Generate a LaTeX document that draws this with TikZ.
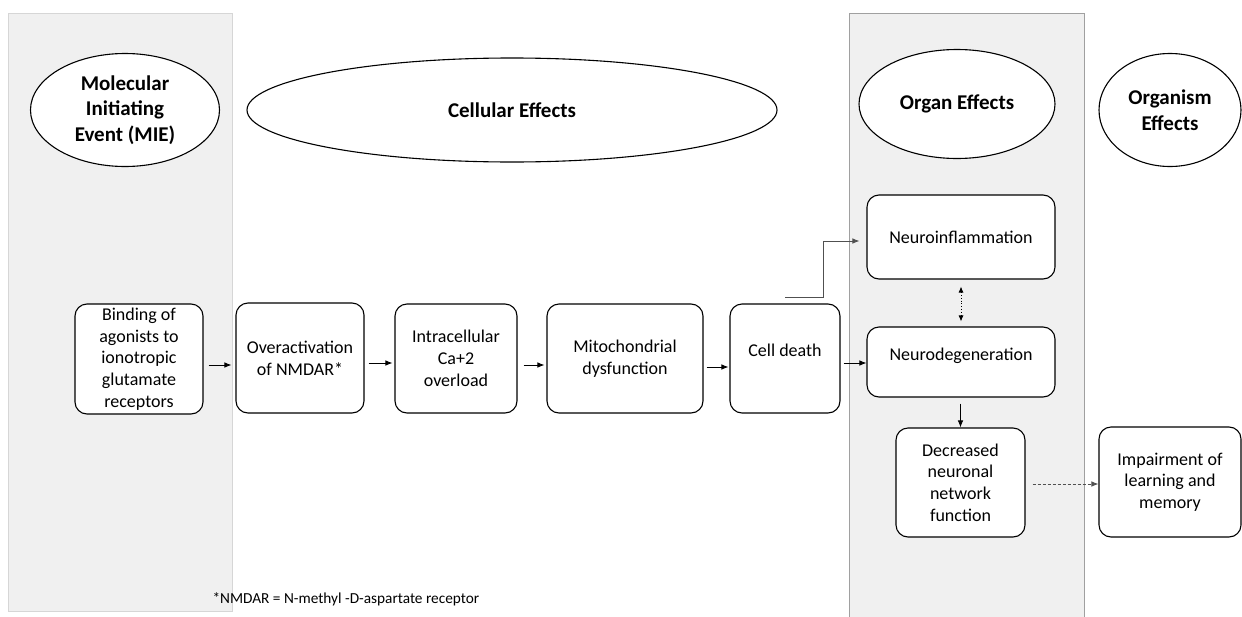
\documentclass[tikz,border=0pt]{standalone}
\usepackage{fontspec}
\setmainfont{Carlito}
\usetikzlibrary{shapes.geometric,arrows.meta}
\definecolor{panelfill}{HTML}{F0F0F0}
\definecolor{panelleft}{HTML}{D6D6D6}
\definecolor{panelright}{HTML}{A0A0A0}
\definecolor{elbowgray}{HTML}{505050}
\tikzset{
  x=1pt, y=-1pt,
  box/.style={draw, fill=white, line width=1.1pt, rounded corners=12pt, inner sep=0pt, align=center,
              font=\fontsize{18}{21.7}\selectfont},
  title/.style={draw, fill=white, ellipse, line width=1.1pt, inner sep=0pt, align=center,
              font=\fontsize{21}{25.5}\selectfont\bfseries},
  arr/.style={-{Latex[length=7pt,width=5.5pt]}, line width=0.8pt},
}
\begin{document}
\begin{tikzpicture}
\useasboundingbox (0,0) rectangle (1242,616);
% panels
\fill[panelfill] (8,13) rectangle (232,611);
\draw[panelleft, line width=1pt] (8,13) rectangle (232,611);
\fill[panelfill] (849,13) rectangle (1084,620);
\draw[panelright, line width=1pt] (849,620) -- (849,13) -- (1084,13) -- (1084,620);

% title ellipses
\node[title, minimum width=189pt, minimum height=113pt] (mie) at (125,110) {Molecular\\Initiating\\Event (MIE)};
\node[title, minimum width=530pt, minimum height=104pt] (cell) at (512,110) {Cellular Effects};
\node[title, minimum width=196pt, minimum height=109pt] (organ) at (957,104) {Organ Effects};
\node[title, minimum width=142pt, minimum height=113pt] (organism) at (1170,110) {Organism\\Effects};

% boxes
\node[box, minimum width=128pt, minimum height=110pt] (bind) at (139,359) {Binding of\\agonists to\\ionotropic\\glutamate\\receptors};
\node[box, minimum width=128pt, minimum height=110pt] (over) at (300,358) {Overactivation\\of NMDAR*};
\node[box, minimum width=122pt, minimum height=109pt] (intra) at (456,358.5) {Intracellular\\Ca+2\\overload};
\node[box, minimum width=156pt, minimum height=109pt] (mito) at (625,358.5) {Mitochondrial\\dysfunction};
\node[box, minimum width=110pt, minimum height=109pt] (death) at (785,358.5) {};
\node[font=\fontsize{18}{21.7}\selectfont] (deathtxt) at (785,350) {Cell death};
\node[box, minimum width=188pt, minimum height=84pt] (ninf) at (961,237) {Neuroinflammation};
\node[box, minimum width=188pt, minimum height=70pt] (ndeg) at (961,362) {};
\node[font=\fontsize{18}{21.7}\selectfont] (ndegtxt) at (961,356) {Neurodegeneration};
\node[box, minimum width=129pt, minimum height=109pt] (decr) at (960.5,482.5) {Decreased\\neuronal\\network\\function};
\node[box, minimum width=142pt, minimum height=110pt] (imp) at (1170,482) {Impairment of\\learning and\\memory};

% connectors
\draw[arr, shorten <=5pt, shorten >=4pt] (bind.east |- 0,365) -- (over.west |- 0,365);
\draw[arr, shorten <=4pt, shorten >=2pt] (over.east |- 0,363) -- (intra.west |- 0,363);
\draw[arr, shorten <=6pt, shorten >=2pt] (intra.east |- 0,365) -- (mito.west |- 0,365);
\draw[arr, shorten <=3pt, shorten >=1pt] (mito.east |- 0,367) -- (death.west |- 0,367);
\draw[arr, shorten <=3pt, shorten >=0pt] (death.east |- 0,363) -- (ndeg.west |- 0,363);
\coordinate (elbowstart) at (785,297);
\draw[arr, elbowgray] (elbowstart) -- (823,297) -- (823,241) -- ([xshift=-7pt]ninf.west |- 0,241);
\draw[{Latex[length=6pt,width=5pt]}-{Latex[length=6pt,width=5pt]}, line width=0.8pt, dotted, shorten <=7pt, shorten >=5pt] (ninf.south) -- (ndeg.north);
\draw[arr, shorten <=6pt] (ndeg.south -| decr.north) -- (decr.north);
\draw[arr, dash pattern=on 3pt off 2pt, elbowgray, shorten <=7pt, shorten >=0pt] (decr.east |- 0,484) -- (imp.west |- 0,484);

% footnote
\node[anchor=west, font=\fontsize{15.3}{18}\selectfont] (foot) at (209,599) {*NMDAR = N-methyl -D-aspartate receptor};
\end{tikzpicture}
\end{document}
